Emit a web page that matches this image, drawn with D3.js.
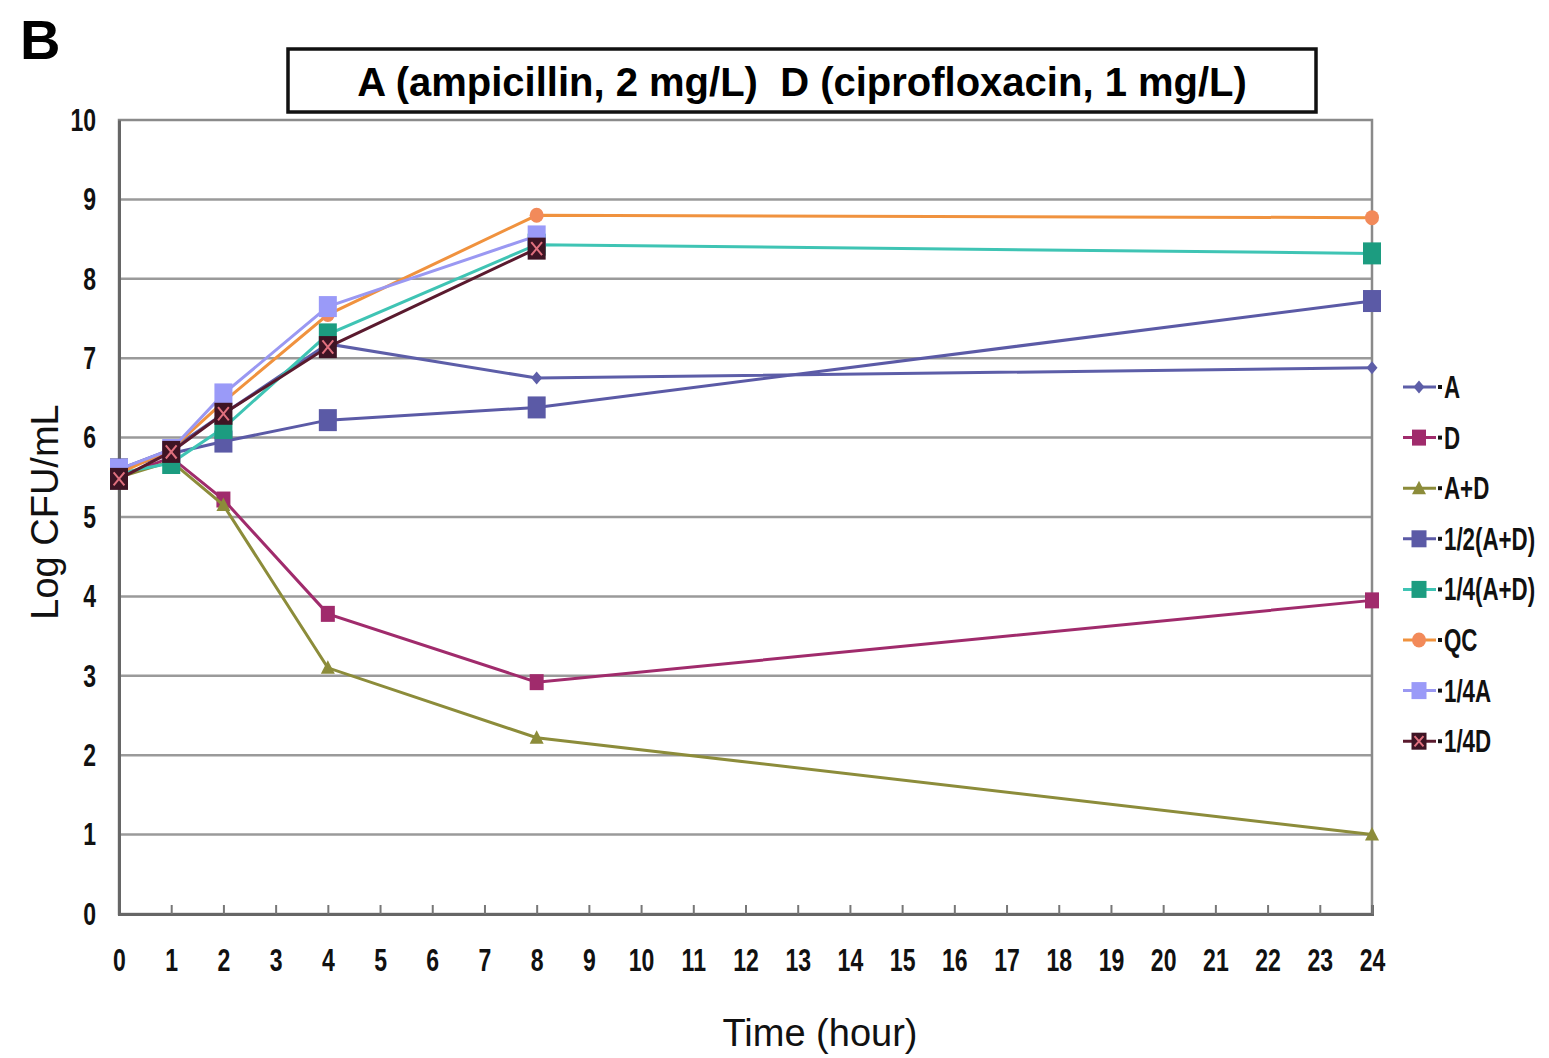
<!DOCTYPE html>
<html>
<head>
<meta charset="utf-8">
<script src="https://cdn.jsdelivr.net/npm/d3@7"></script>
<style>
  html, body { margin: 0; padding: 0; background: #fff; }
  svg { display: block; }
</style>
</head>
<body>
<svg id="chart" width="1549" height="1058"></svg>
<script>
// Time points (hours) and log CFU/mL for each regimen
const timesFull = [0, 1, 2, 4, 8, 24];
const timesShort = [0, 1, 2, 4, 8];

const seriesNames = ["A", "D", "A+D", "1/2(A+D)", "1/4(A+D)", "QC", "1/4A", "1/4D"];

const valuesA       = [5.60, 5.85, 6.30, 7.18, 6.75, 6.88];
const valuesD       = [5.50, 5.75, 5.22, 3.78, 2.92, 3.95];
const valuesAD      = [5.50, 5.70, 5.15, 3.10, 2.22, 1.00];
const valuesHalfAD  = [5.60, 5.80, 5.95, 6.22, 6.38, 7.72];
const valuesQtrAD   = [5.55, 5.68, 6.12, 7.30, 8.43, 8.32];
const valuesQC      = [5.55, 5.85, 6.45, 7.55, 8.80, 8.77];
const valuesQtrA    = [5.60, 5.85, 6.55, 7.65, 8.54];
const valuesQtrD    = [5.48, 5.82, 6.30, 7.14, 8.38];

const xTickLabels = d3.range(0, 25);
const yTickLabels = d3.range(0, 11);

const series = [
  { name: seriesNames[0], t: timesFull,  v: valuesA,      line: "#5d5ea8", fill: "#5d5ea8", shape: "diamond", w: 11, h: 13 },
  { name: seriesNames[1], t: timesFull,  v: valuesD,      line: "#a02b6c", fill: "#a02b6c", shape: "square",  w: 14, h: 16 },
  { name: seriesNames[2], t: timesFull,  v: valuesAD,     line: "#8c8c3a", fill: "#8c8c3a", shape: "triangle",w: 14, h: 15 },
  { name: seriesNames[3], t: timesFull,  v: valuesHalfAD, line: "#5b5aa6", fill: "#5b5aa6", shape: "square",  w: 18, h: 22 },
  { name: seriesNames[4], t: timesFull,  v: valuesQtrAD,  line: "#3fc4b4", fill: "#1c9c80", shape: "square",  w: 18, h: 22 },
  { name: seriesNames[5], t: timesFull,  v: valuesQC,     line: "#f0923e", fill: "#f28a5a", shape: "circle",  w: 14, h: 15 },
  { name: seriesNames[6], t: timesShort, v: valuesQtrA,   line: "#9a98f2", fill: "#9a9af8", shape: "square",  w: 18, h: 21 },
  { name: seriesNames[7], t: timesShort, v: valuesQtrD,   line: "#5a1a2e", fill: "#3e1424", shape: "xsquare", w: 18, h: 22 }
];

const svg = d3.select("#chart");
const plotLeft = 119, plotRight = 1372, plotTop = 120, plotBottom = 914;

const x = d3.scaleLinear().domain([0, 24]).range([plotLeft, plotRight]);
const y = d3.scaleLinear().domain([0, 10]).range([plotBottom, plotTop]);

const sans = "Liberation Sans, Arial, sans-serif";
const squeeze = 0.72; // horizontal squeeze for the condensed tick and legend lettering

// Panel letter
svg.append("text").attr("x", 20).attr("y", 59)
  .attr("font-family", sans).attr("font-weight", "bold")
  .attr("font-size", 56).text("B");

// Title box
svg.append("rect").attr("x", 288).attr("y", 49).attr("width", 1028).attr("height", 63)
  .attr("fill", "#fff").attr("stroke", "#111").attr("stroke-width", 3.5);
svg.append("text").attr("x", 802).attr("y", 96).attr("text-anchor", "middle")
  .attr("font-family", sans).attr("font-weight", "bold")
  .attr("font-size", 40).style("white-space", "pre")
  .text("A (ampicillin, 2 mg/L)  D (ciprofloxacin, 1 mg/L)");

// Horizontal gridlines
svg.append("g").selectAll("line").data(yTickLabels.filter(d => d > 0 && d < 10)).join("line")
  .attr("x1", plotLeft).attr("x2", plotRight).attr("y1", d => y(d)).attr("y2", d => y(d))
  .attr("stroke", "#9a9a9a").attr("stroke-width", 2.5);

// Plot frame
svg.append("rect").attr("x", plotLeft).attr("y", plotTop)
  .attr("width", plotRight - plotLeft).attr("height", plotBottom - plotTop)
  .attr("fill", "none").attr("stroke", "#8a8a8a").attr("stroke-width", 2.5);

// Bottom axis with inward ticks
const xAxis = d3.axisBottom(x).tickValues(xTickLabels).tickSize(-9).tickPadding(34).tickFormat(d3.format("d"));
const gx = svg.append("g").attr("transform", `translate(0,${plotBottom})`).call(xAxis);
gx.select(".domain").attr("stroke", "#666").attr("stroke-width", 3);
gx.selectAll(".tick line").attr("stroke", "#777").attr("stroke-width", 2);
gx.selectAll(".tick text").attr("font-size", 32).attr("fill", "#111")
  .attr("font-family", sans).attr("font-weight", "bold")
  .attr("transform", `scale(${squeeze},1)`);

// Left axis
const yAxis = d3.axisLeft(y).tickValues(yTickLabels).tickSize(0).tickFormat(d3.format("d"));
const gy = svg.append("g").attr("transform", `translate(${plotLeft},0)`).call(yAxis);
gy.select(".domain").attr("stroke", "#666").attr("stroke-width", 3);
gy.selectAll(".tick text").attr("font-size", 32).attr("fill", "#111")
  .attr("font-family", sans).attr("font-weight", "bold")
  .attr("x", -23 / squeeze).attr("transform", `scale(${squeeze},1)`);

// Axis titles
svg.append("text").attr("transform", "translate(58,512) rotate(-90)").attr("text-anchor", "middle")
  .attr("font-family", sans).attr("font-size", 38).attr("fill", "#111")
  .text("Log CFU/mL");
svg.append("text").attr("x", 820).attr("y", 1046).attr("text-anchor", "middle")
  .attr("font-family", sans).attr("font-size", 38).attr("fill", "#111")
  .text("Time (hour)");

// Marker drawing
function drawMarker(g, s, cx, cy) {
  const rw = s.w / 2, rh = s.h / 2;
  if (s.shape === "square" || s.shape === "xsquare") {
    g.append("rect").attr("x", cx - rw).attr("y", cy - rh).attr("width", s.w).attr("height", s.h)
      .attr("fill", s.fill);
    if (s.shape === "xsquare") {
      const kx = rw * 0.6, ky = rh * 0.6;
      g.append("path").attr("d", `M${cx - kx},${cy - ky}L${cx + kx},${cy + ky}M${cx - kx},${cy + ky}L${cx + kx},${cy - ky}`)
        .attr("stroke", "#e0707e").attr("stroke-width", 2);
    }
  } else if (s.shape === "diamond") {
    g.append("path").attr("d", `M${cx},${cy - rh}L${cx + rw},${cy}L${cx},${cy + rh}L${cx - rw},${cy}Z`).attr("fill", s.fill);
  } else if (s.shape === "triangle") {
    g.append("path").attr("d", `M${cx},${cy - rh}L${cx + rw},${cy + rh * 0.8}L${cx - rw},${cy + rh * 0.8}Z`).attr("fill", s.fill);
  } else if (s.shape === "circle") {
    g.append("ellipse").attr("cx", cx).attr("cy", cy).attr("rx", rw).attr("ry", rh).attr("fill", s.fill);
  }
}

const line = d3.line().x(d => x(d[0])).y(d => y(d[1]));
const plot = svg.append("g");
series.forEach(s => {
  const pts = s.t.map((t, i) => [t, s.v[i]]);
  const g = plot.append("g");
  g.append("path").attr("d", line(pts)).attr("fill", "none").attr("stroke", s.line).attr("stroke-width", 3);
  pts.forEach(p => drawMarker(g, s, x(p[0]), y(p[1])));
});

// Legend
const legend = svg.append("g");
series.forEach((s, i) => {
  const ly = 387 + i * 50.6;
  const g = legend.append("g");
  g.append("line").attr("x1", 1403).attr("x2", 1436).attr("y1", ly).attr("y2", ly)
    .attr("stroke", s.line).attr("stroke-width", 3);
  drawMarker(g, Object.assign({}, s, { w: Math.min(s.w, 15), h: Math.min(s.h, 17) }), 1419, ly);
  g.append("rect").attr("x", 1438).attr("y", ly - 2).attr("width", 4).attr("height", 4).attr("fill", "#111");
  g.append("text").attr("x", 1444 / squeeze).attr("y", ly + 11).attr("font-size", 31).attr("fill", "#111")
    .attr("font-family", sans).attr("font-weight", "bold")
    .attr("transform", `scale(${squeeze},1)`)
    .text(s.name);
});
</script>
</body>
</html>
